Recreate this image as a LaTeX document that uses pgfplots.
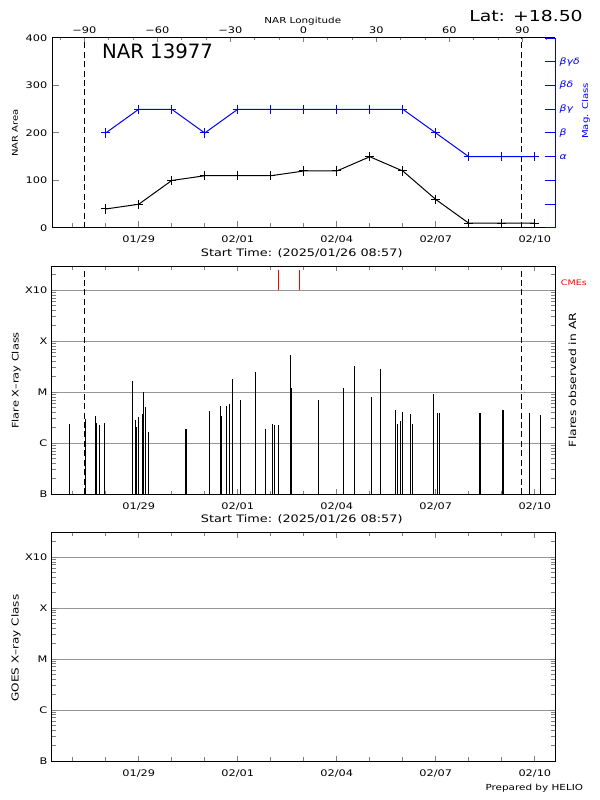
\documentclass[border=0pt]{standalone}
\usepackage{fontspec}
\setmainfont[FakeStretch=1.25]{DejaVu Sans}
\newfontfamily\bigfont{DejaVu Sans}
\usepackage{pgfplots}
\pgfplotsset{compat=1.18}
\definecolor{gridgray}{RGB}{150,150,150}
\newcommand{\fs}[1]{\fontsize{#1}{#1}\selectfont}

\pgfplotsset{
  base/.style={
    scale only axis, width=377.25pt, anchor=south west, clip=false,
    xmin=0.373, xmax=15.61,
    axis line style={line width=0.75pt},
    every outer x axis line/.append style={-},
    every outer y axis line/.append style={-},
    tick style={line width=0.75pt},
    tick align=inside,
    tick label style={font=\fs{6.8pt}},
    /pgf/number format/assume math mode=true,
  },
  dates/.style={
    xtick={3,6,9,12,15}, xticklabels={01/29,02/01,02/04,02/07,02/10},
    minor xtick={1,2,4,5,7,8,10,11,13,14},
    xticklabel style={anchor=base, yshift=-11.25pt},
  },
  flarepanel/.style={
    base, dates, height=171.2pt,
    ymin=1e-7, ymax=3e-3, log origin y=infty,
    ytick={1e-7,1e-6,1e-5,1e-4,1e-3}, yticklabels={B,C,M,X,X10},
    minor ytick={2e-7,3e-7,4e-7,5e-7,6e-7,7e-7,8e-7,9e-7,
                 2e-6,3e-6,4e-6,5e-6,6e-6,7e-6,8e-6,9e-6,
                 2e-5,3e-5,4e-5,5e-5,6e-5,7e-5,8e-5,9e-5,
                 2e-4,3e-4,4e-4,5e-4,6e-4,7e-4,8e-4,9e-4,2e-3},
    ymajorgrids, grid style={gridgray, line width=0.75pt},
    xtick pos=both, ytick pos=both, xticklabel pos=lower, yticklabel pos=left,
    major tick length=4pt, minor tick length=2.75pt,
  },
}

\begin{document}
\begin{tikzpicture}
\useasboundingbox (0,0) rectangle (450pt,600pt);

% ---------- top panel: NAR area ----------
\begin{axis}[base, dates, at={(39pt,429pt)}, height=142.5pt,
  ymin=0, ymax=400, ytick={0,100,200,300,400},
  axis x line*=bottom, axis y line*=left,
  major tick length=5.5pt, minor tick length=3.5pt]
\addplot[black, line width=0.75pt, mark=+, mark size=3.4pt, mark options={solid}]
  coordinates {(2,40)(3,50)(4,100)(5,110)(6,110)(7,110)(8,120)(9,120)
               (10,150)(11,120)(12,60)(13,10)(14,10)(15,10)};
\addplot[black, line width=0.75pt, dash pattern=on 4.5pt off 2.6pt]
  coordinates {(1.368,0)(1.368,400)};
\addplot[black, line width=0.75pt, dash pattern=on 4.5pt off 2.6pt]
  coordinates {(14.609,0)(14.609,400)};
\end{axis}

% top axis: longitude
\begin{axis}[base, at={(39pt,429pt)}, height=142.5pt,
  xmin=-103.3, xmax=103.4, ymin=0, ymax=1,
  axis x line*=top, axis y line=none,
  xtick={-90,-60,-30,0,30,60,90},
  xticklabels={−90,−60,−30,0,30,60,90},
  minor xtick={-100,-80,-70,-50,-40,-20,-10,10,20,40,50,70,80,100},
  xticklabel style={anchor=base, yshift=3pt},
  major tick length=3.2pt, minor tick length=1.8pt]
\end{axis}

% right axis: magnetic class
\begin{axis}[base, at={(39pt,429pt)}, height=142.5pt,
  ymin=0, ymax=8, ytick={0,1,2,3,4,5,6,7,8},
  yticklabels={,,,α,β,βγ,βδ,βγδ,},
  axis y line*=right, axis x line=none,
  y axis line style={blue},
  ytick style={blue, line width=0.75pt},
  yticklabel style={blue, font=\fs{6.5pt}\itshape},
  major tick length=7.5pt]
\addplot[blue, line width=0.75pt, mark=+, mark size=3.4pt, mark options={solid}]
  coordinates {(2,4)(3,5)(4,5)(5,4)(6,5)(7,5)(8,5)(9,5)(10,5)(11,5)(12,4)(13,3)(14,3)(15,3)};
\end{axis}

% ---------- middle panel: flares ----------
\begin{semilogyaxis}[flarepanel, at={(39pt,229.3pt)}]
\addplot[ycomb, black, line width=0.8pt, mark=none] coordinates {
(0.914,2.4e-6)(1.398,3.0e-6)(1.700,3.4e-6)(1.730,2.5e-6)(1.803,2.3e-6)
(1.954,2.5e-6)(2.819,1.7e-5)(2.891,2.8e-6)(2.909,2.1e-6)(2.940,2.1e-6)
(3.000,3.3e-6)(3.121,3.8e-6)(3.151,1.0e-5)(3.212,5.2e-6)(3.302,1.7e-6)
(4.433,1.9e-6)(5.146,4.3e-6)(5.479,5.4e-6)(5.509,3.4e-6)(5.660,5.4e-6)
(5.751,5.9e-6)(5.842,1.8e-5)(6.083,7.1e-6)(6.537,2.5e-5)(6.839,1.9e-6)
(7.051,2.4e-6)(7.111,2.3e-6)(7.232,2.3e-6)(7.595,5.4e-5)(7.625,1.2e-5)
(8.441,7.1e-6)(9.197,1.2e-5)(9.530,3.3e-5)(10.044,8.1e-6)(10.316,2.9e-5)
(10.769,4.5e-6)(10.830,2.4e-6)(10.920,2.7e-6)(10.981,4.1e-6)(11.223,3.8e-6)
(11.283,2.4e-6)(11.918,9.3e-6)(12.039,3.9e-6)(12.099,3.9e-6)(13.339,3.9e-6)
(14.034,4.5e-6)(14.850,3.9e-6)(15.183,3.6e-6)};
\addplot[red, line width=0.8pt] coordinates {(7.232,1e-3)(7.232,2.5e-3)};
\addplot[red, line width=0.8pt] coordinates {(7.867,1e-3)(7.867,2.5e-3)};
\addplot[black, line width=0.75pt, dash pattern=on 4.5pt off 2.6pt]
  coordinates {(1.368,1e-7)(1.368,3e-3)};
\addplot[black, line width=0.75pt, dash pattern=on 4.5pt off 2.6pt]
  coordinates {(14.609,1e-7)(14.609,3e-3)};
\end{semilogyaxis}

% ---------- bottom panel: GOES ----------
\begin{semilogyaxis}[flarepanel, at={(39pt,29.25pt)}]
\end{semilogyaxis}

% ---------- texts ----------
\node[font=\bigfont\fs{14.8pt}, anchor=base west, inner sep=0] at (76.3pt,556.25pt) {NAR 13977};
\node[font=\fs{11.3pt}, anchor=base east, inner sep=0] at (437.25pt,583.7pt) {Lat: +18.50};
\node[font=\fs{6.2pt}, anchor=base, inner sep=0] at (227.1pt,582.5pt) {NAR Longitude};
\node[font=\fs{6pt}, rotate=90, inner sep=0] at (11.25pt,500.25pt) {NAR Area};
\node[font=\fs{6.1pt}, rotate=90, inner sep=0, text=blue] at (439.4pt,516.75pt) {Mag. Class};
\node[font=\fs{7.7pt}, anchor=base, inner sep=0] at (226.3pt,407.5pt) {Start Time: (2025/01/26 08:57)};
\node[font=\fs{6.8pt}, rotate=90, inner sep=0] at (12pt,314.6pt) {Flare X–ray Class};
\node[font=\fs{7.4pt}, rotate=90, inner sep=0] at (429.4pt,315pt) {Flares observed in AR};
\node[font=\fs{5.7pt}, inner sep=0, text=red] at (430.4pt,387.75pt) {CMEs};
\node[font=\fs{7.7pt}, anchor=base, inner sep=0] at (226.3pt,207.75pt) {Start Time: (2025/01/26 08:57)};
\node[font=\fs{7.2pt}, rotate=90, inner sep=0] at (12pt,114pt) {GOES X–ray Class};
\node[font=\fs{6.25pt}, anchor=base east, inner sep=0] at (437.5pt,7.5pt) {Prepared by HELIO};
\end{tikzpicture}
\end{document}
